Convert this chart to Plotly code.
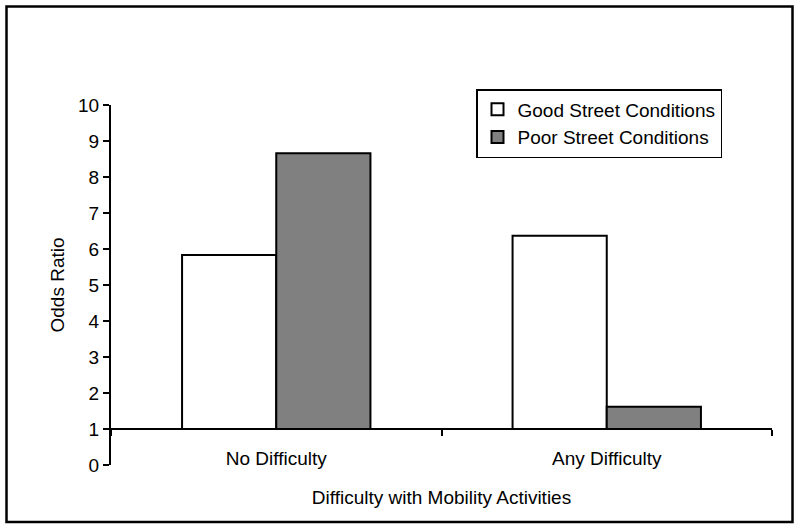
import plotly.graph_objects as go

categories = ["No Difficulty", "Any Difficulty"]
good_values = [5.83, 6.37]
poor_values = [8.66, 1.62]
baseline = 1
y_ticks = list(range(0, 11))

FONT = "Liberation Sans, Arial, sans-serif"
FS = 19

fig = go.Figure()
fig.add_trace(go.Bar(
    name="Good Street Conditions", x=categories,
    y=[v - baseline for v in good_values], base=baseline,
    marker=dict(color="white", line=dict(color="black", width=2)),
))
fig.add_trace(go.Bar(
    name="Poor Street Conditions", x=categories,
    y=[v - baseline for v in poor_values], base=baseline,
    marker=dict(color="#808080", line=dict(color="black", width=2)),
))

W, H = 800, 530
L, R, T, B = 111, 28, 105, 65
plot_w = W - L - R
plot_h = H - T - B

def px_x(p):
    return (p - L) / plot_w

def px_y(p):
    return (H - B - p) / plot_h

fig.update_layout(
    width=W, height=H,
    margin=dict(l=L, r=R, t=T, b=B, autoexpand=False),
    paper_bgcolor="white", plot_bgcolor="white",
    font=dict(family=FONT, size=FS, color="black"),
    barmode="group", bargap=0.43, bargroupgap=0,
    showlegend=True,
    legend=dict(
        x=px_x(722), y=px_y(89), xanchor="right", yanchor="top",
        bordercolor="black", borderwidth=1.5, bgcolor="white",
        font=dict(family=FONT, size=FS, color="black"),
        itemsizing="constant", itemwidth=30, traceorder="normal",
    ),
    xaxis=dict(
        type="category", anchor="free", position=0.1,
        showline=True, linecolor="black", linewidth=2,
        ticks="outside", tickson="boundaries", ticklen=6, tickwidth=2, tickcolor="black",
        ticklabelstandoff=12,
        showgrid=False, zeroline=False,
        tickfont=dict(family=FONT, size=FS, color="black"),
        title=dict(text="Difficulty with Mobility Activities", standoff=22,
                   font=dict(family=FONT, size=FS, color="black")),
        automargin=False,
    ),
    yaxis=dict(
        range=[0, 10], tickvals=y_ticks, showgrid=False, zeroline=False,
        showline=True, linecolor="black", linewidth=2,
        ticks="outside", ticklen=6, tickwidth=2, tickcolor="black",
        tickfont=dict(family=FONT, size=FS, color="black"),
        title=dict(text="Odds Ratio", standoff=8,
                   font=dict(family=FONT, size=FS, color="black")),
        automargin=False,
    ),
    shapes=[dict(
        type="rect", xref="paper", yref="paper",
        x0=px_x(6.5), x1=px_x(792.5), y0=px_y(522), y1=px_y(6.5),
        line=dict(color="black", width=2.5), fillcolor="rgba(0,0,0,0)",
        layer="below",
    )],
)

fig.write_html("out.html", config={"displayModeBar": False},
               post_script="document.body.style.margin='0';document.body.style.padding='0';")
